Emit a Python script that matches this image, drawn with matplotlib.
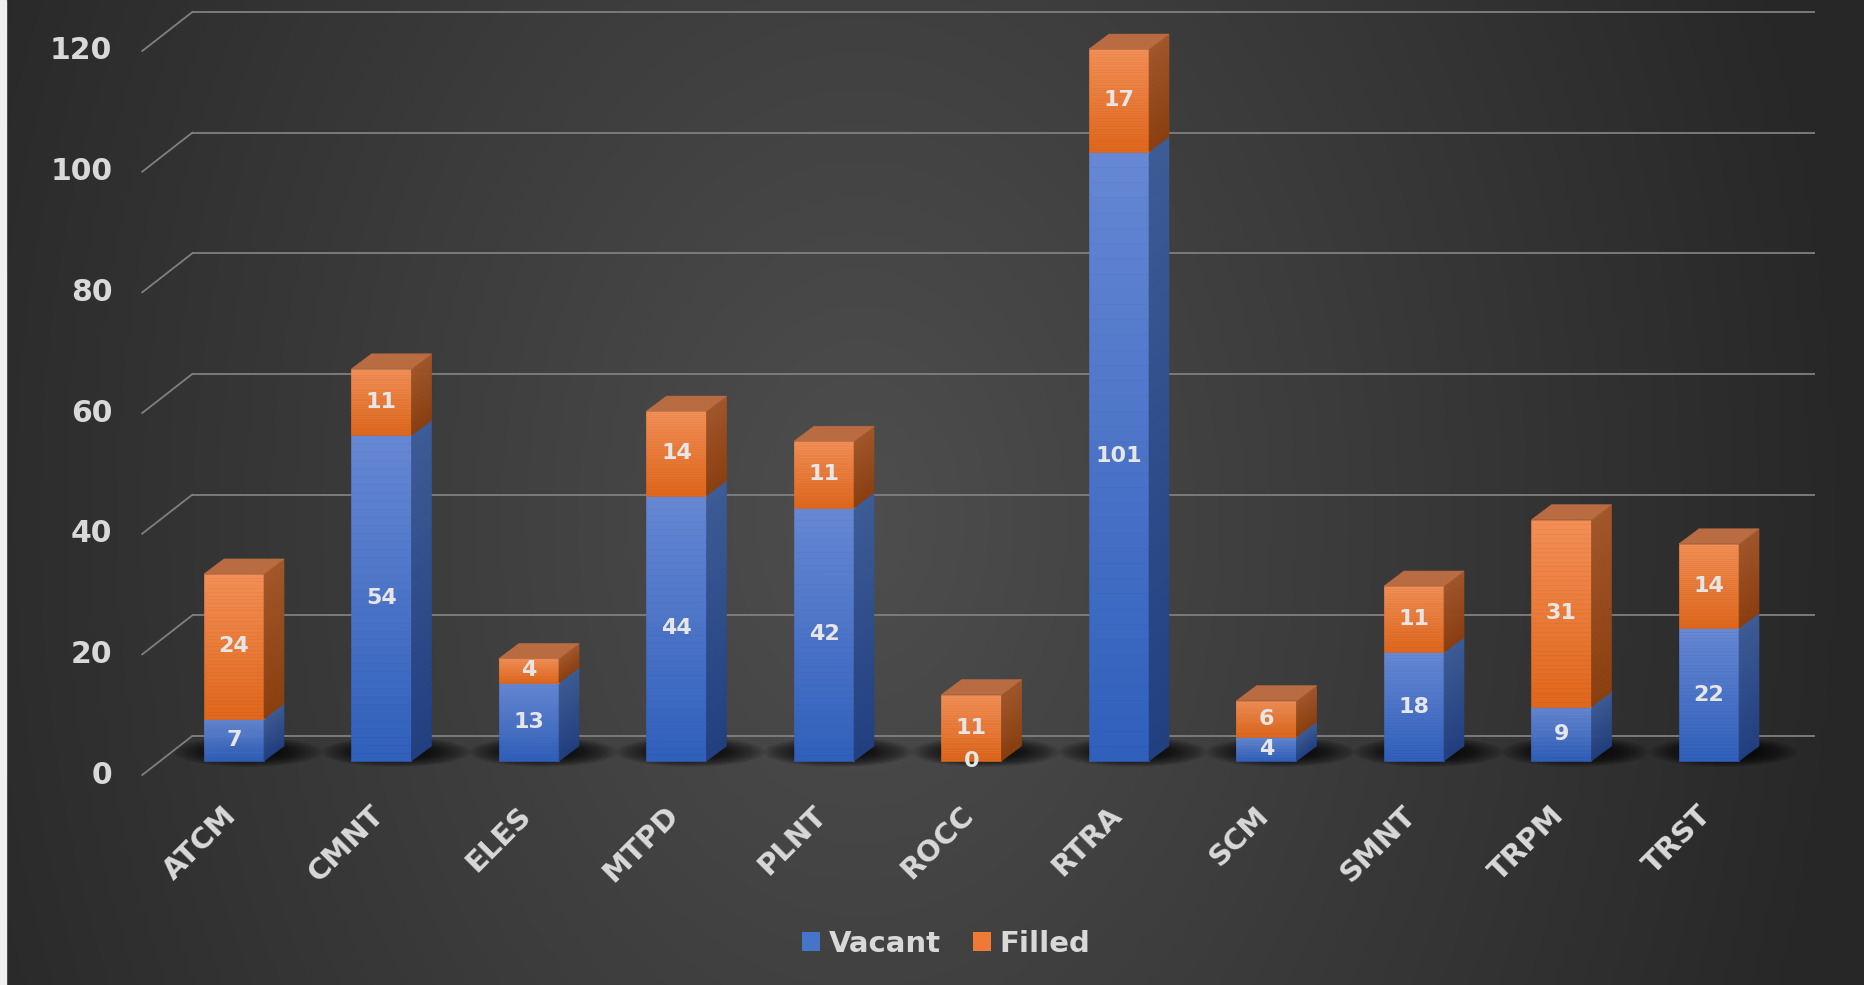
import numpy as np
import matplotlib
matplotlib.use("Agg")
import matplotlib.pyplot as plt
from matplotlib.patches import Polygon, Rectangle, Ellipse, Patch
from matplotlib.colors import to_rgb

# ---------------- data ----------------
categories = ["ATCM", "CMNT", "ELES", "MTPD", "PLNT", "ROCC", "RTRA", "SCM", "SMNT", "TRPM", "TRST"]
vacant = [7, 54, 13, 44, 42, 0, 101, 4, 18, 9, 22]
filled = [24, 11, 4, 14, 11, 11, 17, 6, 11, 31, 14]
series_names = ["Vacant", "Filled"]
y_ticks = [0, 20, 40, 60, 80, 100, 120]

# ---------------- figure ----------------
W, H = 1865, 985
fig = plt.figure(figsize=(W / 100, H / 100), dpi=100)

# background radial gradient
bg = fig.add_axes([0, 0, 1, 1], zorder=-10)
yy, xx = np.mgrid[0:H, 0:W]
cx, cy = 860, 520
d = np.sqrt(((xx - cx) / 1.0) ** 2 + ((yy - cy) / 1.4) ** 2)
t = np.clip(d / 1000, 0, 1)
c_in, c_out = np.array(to_rgb("#4e4e4e")), np.array(to_rgb("#272727"))
img = c_in[None, None, :] * (1 - t[..., None]) + c_out[None, None, :] * t[..., None]
bg.imshow(img, extent=(0, W, H, 0), aspect="auto", interpolation="bilinear")
bg.add_patch(Rectangle((0, 0), 6, H, color="#eeeff1", zorder=5))
bg.set_xlim(0, W)
bg.set_ylim(H, 0)
bg.axis("off")

# main axes (front plane of the bars)
left_px, right_px, bottom_px, top_px = 160.25, 1782.75, 224, 948
ax = fig.add_axes([left_px / W, bottom_px / H, (right_px - left_px) / W, (top_px - bottom_px) / H])
ax.set_xlim(-0.5, len(categories) - 0.5)
ax.set_ylim(0, 120)
ax.axis("off")
ax.patch.set_alpha(0)

xpp = (len(categories)) / (right_px - left_px)   # data units per pixel (x)
ypp = 120 / (top_px - bottom_px)                  # data units per pixel (y)
def ox(p):
    return p * xpp
def oy(p):
    return p * ypp

BACK = (32, 25)
FRONT = (-18, -14)
DEPTH = (20, 15)
bw = 60 / 147.5

grid_c = "#808080"
x0, x1 = -0.5, len(categories) - 0.5
for v in y_ticks:
    ax.plot([x0 + ox(BACK[0]), x1 + ox(BACK[0])], [v + oy(BACK[1])] * 2,
            color=grid_c, lw=1.3, zorder=1, clip_on=False, solid_capstyle="butt")
    ax.plot([x0 + ox(FRONT[0]), x0 + ox(BACK[0])], [v + oy(FRONT[1]), v + oy(BACK[1])],
            color=grid_c, lw=1.3, zorder=1, clip_on=False)
    ax.text(x0 + ox(FRONT[0] - 30), v + oy(FRONT[1]), str(v), ha="right", va="center",
            fontsize=21.5, fontweight="bold", color="#d9d9d9", clip_on=False)

# soft shadows on the floor
for i in range(len(categories)):
    n = 26
    for k in range(n):
        f = k / (n - 1)
        e = Ellipse((i + ox(14), oy(9)), width=ox(150 - 95 * f), height=oy(30 - 20 * f),
                    facecolor="black", edgecolor="none", alpha=0.045, zorder=2, clip_on=False)
        ax.add_patch(e)

blue = dict(front=("#6688d4", "#2f5fbb"), side=("#3d5c96", "#223f80"), top="#5577b8")
orange = dict(front=("#f48e55", "#e0661a"), side=("#a3572a", "#8c3f0f"), top="#b96c42")

def grad_face(verts_fn, y0, y1, ctop, cbot, n=40):
    ct, cb = np.array(to_rgb(ctop)), np.array(to_rgb(cbot))
    for k in range(n):
        a = y0 + (y1 - y0) * k / n
        b = y0 + (y1 - y0) * (k + 1) / n
        f = (k + 0.5) / n
        col = cb * (1 - f) + ct * f
        ax.add_patch(Polygon(verts_fn(a, b), closed=True, facecolor=col, edgecolor=col,
                             lw=0.4, zorder=3, clip_on=False))

for i in range(len(categories)):
    xl, xr = i - bw / 2, i + bw / 2
    dx, dy = ox(DEPTH[0]), oy(DEPTH[1])
    segs = [(0, vacant[i], blue), (vacant[i], vacant[i] + filled[i], orange)]
    for (y0, y1, sty) in segs:
        if y1 - y0 <= 0:
            continue
        grad_face(lambda a, b: [(xl, a), (xr, a), (xr, b), (xl, b)], y0, y1, *sty["front"])
        grad_face(lambda a, b: [(xr, a), (xr + dx, a + dy), (xr + dx, b + dy), (xr, b)],
                  y0, y1, *sty["side"])
    top = vacant[i] + filled[i]
    tsty = orange if filled[i] > 0 else blue
    ax.add_patch(Polygon([(xl, top), (xr, top), (xr + dx, top + dy), (xl + dx, top + dy)],
                         closed=True, facecolor=tsty["top"], edgecolor=tsty["top"], lw=0.4,
                         zorder=3, clip_on=False))
    # data labels
    ax.text(i, vacant[i] / 2, str(vacant[i]), ha="center", va="center", fontsize=16,
            fontweight="bold", color="#e6e6e6", zorder=5, clip_on=False)
    ax.text(i, vacant[i] + filled[i] / 2, str(filled[i]), ha="center", va="center", fontsize=16,
            fontweight="bold", color="#e6e6e6", zorder=5, clip_on=False)
    # category labels
    ax.text(i + ox(-2), oy(-50), categories[i], rotation=45, rotation_mode="anchor",
            ha="right", va="center", fontsize=21, fontweight="bold", color="#d9d9d9", clip_on=False)

handles = [Patch(facecolor="#4674c9", edgecolor="none"), Patch(facecolor="#ee7a35", edgecolor="none")]
leg = fig.legend(handles, series_names, loc="center", bbox_to_anchor=(946 / W, 41 / H),
                 ncol=2, frameon=False, handlelength=0.62, handleheight=0.62, handletextpad=0.3,
                 columnspacing=1.1, prop=dict(size=21, weight="bold"))
for txt in leg.get_texts():
    txt.set_color("#d9d9d9")

fig.savefig("out.png", dpi=100)
